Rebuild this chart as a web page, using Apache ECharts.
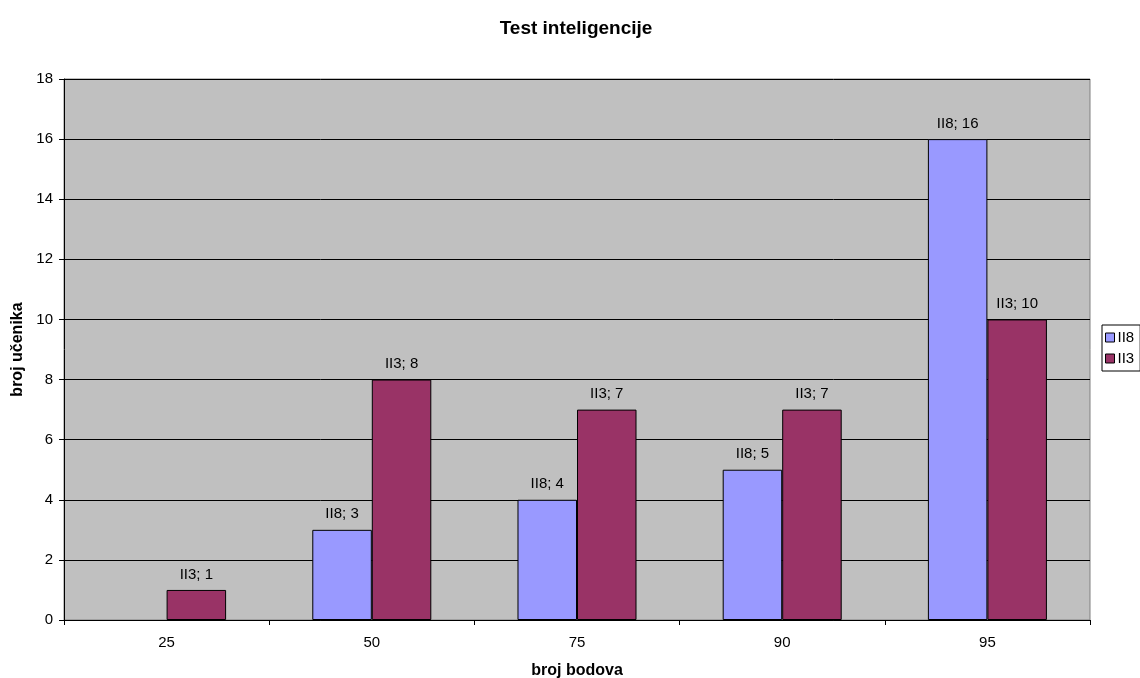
<!DOCTYPE html>
<html><head><meta charset="utf-8">
<script src="https://cdn.jsdelivr.net/npm/echarts@6/dist/echarts.min.js"></script>
<style>html,body{margin:0;padding:0;background:#fff;}#c{width:1140px;height:678px;}</style>
</head><body><div id="c"></div>
<script>
const categories = ['25', '50', '75', '90', '95'];
const seriesNames = ['II8', 'II3'];
const ii8 = [null, 3, 4, 5, 16];
const ii3 = [1, 8, 7, 7, 10];
const yTicks = {min: 0, max: 18, interval: 2};

const font = 'Arial, "Liberation Sans", sans-serif';
const chart = echarts.init(document.getElementById('c'));
const colors = ['#9999FF', '#993366'];
function mk(name, data, color) {
  return {
    name: name, type: 'bar', data: data, barGap: '0%', barCategoryGap: '42%',
    itemStyle: {color: color, borderColor: '#000', borderWidth: 1},
    label: {show: true, position: 'top', distance: 8, formatter: p => p.value == null ? '' : p.seriesName + '; ' + p.value,
      color: '#000', fontFamily: font, fontSize: 15},
    emphasis: {disabled: true}
  };
}
chart.setOption({
  animation: false,
  title: {text: 'Test inteligencije', left: 571, textAlign: 'center', top: 14,
    textStyle: {fontFamily: font, fontSize: 19, fontWeight: 'bold', color: '#000'}},
  legend: {orient: 'vertical', left: 1102, top: 325, itemWidth: 9, itemHeight: 9, itemGap: 6,
    padding: [5, 6, 5, 3], borderColor: '#000', borderWidth: 1, icon: 'rect',
    textStyle: {fontFamily: font, fontSize: 15, color: '#000', padding: [0, 0, 0, -2]},
    itemStyle: {borderColor: '#000', borderWidth: 1}, data: seriesNames},
  grid: {left: 64, right: 50, top: 79, bottom: 58, outerBoundsMode: 'none', containLabel: false,
    show: true, backgroundColor: '#C0C0C0', borderColor: '#808080', borderWidth: 1},
  xAxis: {type: 'category', data: categories, name: 'broj bodova', nameLocation: 'middle', nameGap: 43,
    nameTextStyle: {fontFamily: font, fontSize: 16, fontWeight: 'bold', color: '#000'},
    axisLine: {lineStyle: {color: '#000'}}, axisTick: {show: true, length: 5, lineStyle: {color: '#000'}},
    axisLabel: {fontFamily: font, fontSize: 15, color: '#000', margin: 15}},
  yAxis: {type: 'value', min: yTicks.min, max: yTicks.max, interval: yTicks.interval, name: 'broj učenika',
    nameLocation: 'middle', nameGap: 37,
    nameTextStyle: {fontFamily: font, fontSize: 16, fontWeight: 'bold', color: '#000'},
    axisLine: {show: true, lineStyle: {color: '#000'}}, axisTick: {show: true, length: 5, lineStyle: {color: '#000'}},
    splitLine: {lineStyle: {color: '#000', width: 1}},
    axisLabel: {fontFamily: font, fontSize: 15, color: '#000', margin: 11}},
  series: [mk(seriesNames[0], ii8, colors[0]), mk(seriesNames[1], ii3, colors[1])]
});
</script></body></html>
